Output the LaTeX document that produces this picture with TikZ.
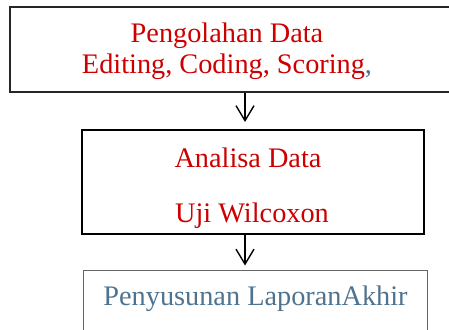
\documentclass[tikz,border=0pt]{standalone}
\usepackage{fontspec}
\setmainfont{Liberation Serif}
\usetikzlibrary{arrows.meta}
\definecolor{tred}{HTML}{CC0000}
\definecolor{tblue}{HTML}{4E7391}
\tikzset{
  arr/.style={-{Straight Barb[length=15pt,width=18pt,line width=1.4pt]},line width=1.4pt,black},
  txt/.style={font=\fontsize{28.3}{32}\selectfont,inner sep=0pt,anchor=base},
  boxA/.style={draw=black!85,line width=1.1pt,inner sep=0pt},
  boxB/.style={draw=black,line width=2pt,inner sep=0pt},
  boxC/.style={draw=black!60,line width=1pt,inner sep=0pt}
}
\begin{document}
\begin{tikzpicture}[x=1pt,y=1pt]
\useasboundingbox (0,0) rectangle (449,-329);
\clip (0,0) rectangle (449,-329);
\node[boxA,minimum width=460pt,minimum height=85pt] (top) at (240,-49.5) {};
\node[boxB,minimum width=342pt,minimum height=104pt] (mid) at (253,-182) {};
\node[boxC,minimum width=344.7pt,minimum height=90pt] (bot) at (255.35,-315) {};
\node[txt,text=tred] (t1) at (227,-43) {Pengolahan Data};
\node[txt,text=tred] (t2) at (227,-74) {Editing, Coding, Scoring\textcolor{tblue}{,}};
\node[txt,text=tred] (m1) at (248,-167) {Analisa Data};
\node[txt,text=tred] (m2) at (252,-222) {Uji Wilcoxon};
\node[txt,text=tblue] (b1) at (255.5,-305) {Penyusunan LaporanAkhir};
\coordinate (ax) at (245,0);
\draw[arr] (ax |- top.south) -- ([yshift=7pt]ax |- mid.north);
\draw[arr] (ax |- mid.south) -- ([yshift=4pt]ax |- bot.north);
\end{tikzpicture}
\end{document}
